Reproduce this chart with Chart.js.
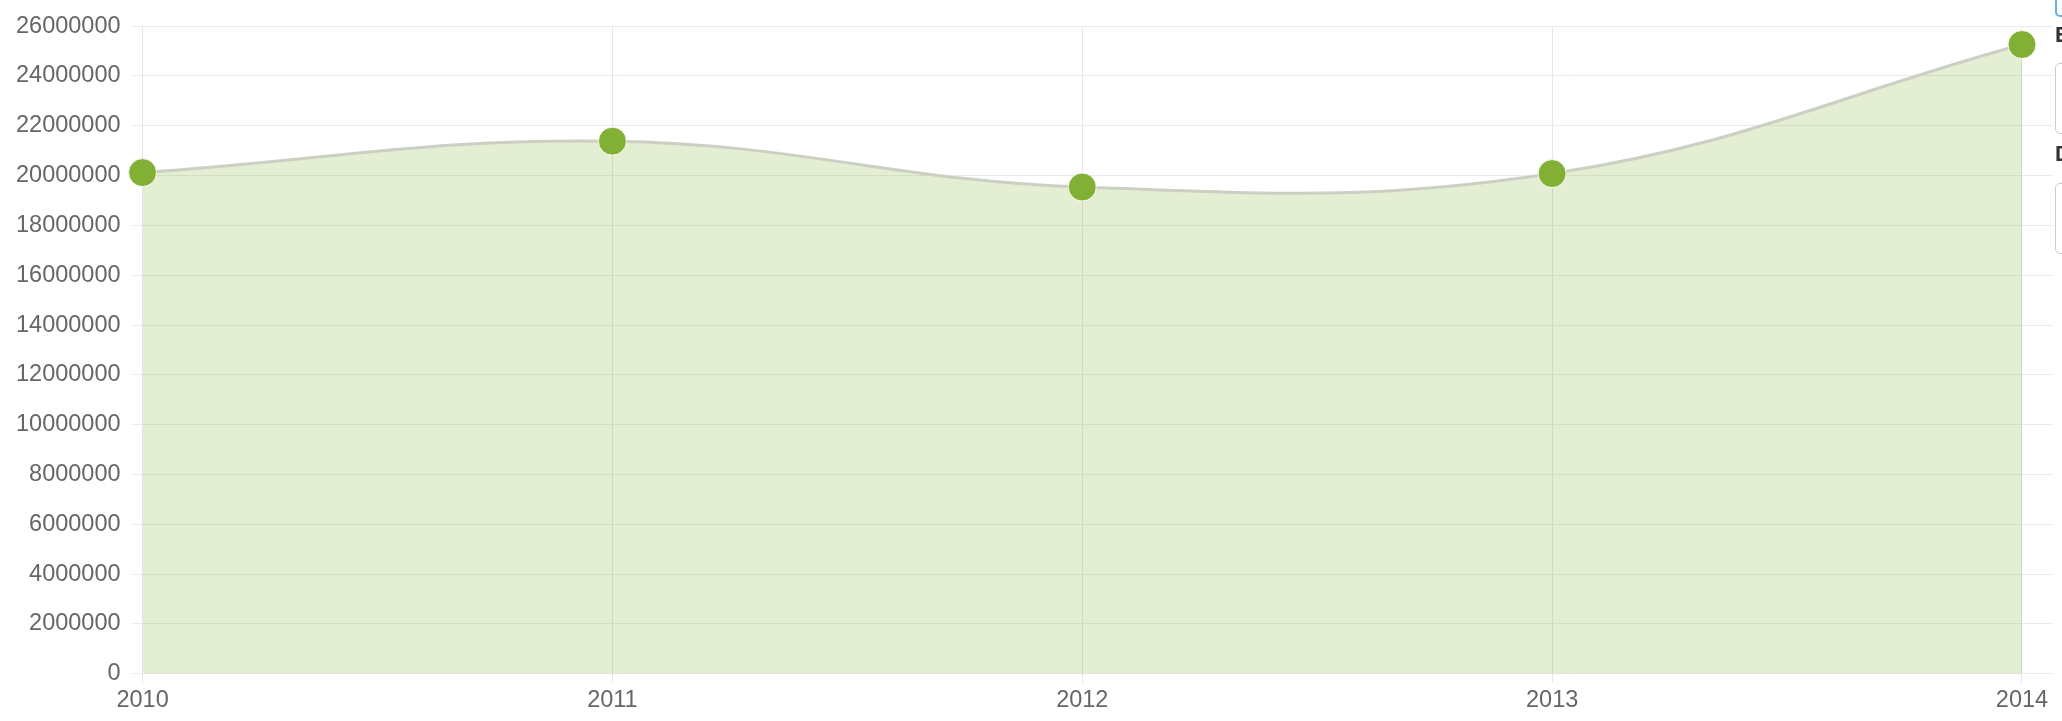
<!DOCTYPE html>
<html>
<head>
<meta charset="utf-8">
<title>Chart</title>
<script src="https://cdn.jsdelivr.net/npm/chart.js@4.4.0/dist/chart.umd.min.js"></script>
<style>
    html, body {
        margin: 0;
        padding: 0;
        background: #fff;
        overflow: hidden;
    }
    #wrap {
        position: absolute;
        left: 0;
        top: 0;
        width: 2068px;
        height: 721px;
    }
    /* cut-off side panel at the right edge */
    .side {
        position: absolute;
        left: 2055px;
        background: #fff;
        font-family: "Liberation Sans", Arial, sans-serif;
    }
    .side-focus {
        top: -20px;
        width: 60px;
        height: 33px;
        border: 2px solid #66afe9;
        border-radius: 5px;
    }
    .side-label {
        font-size: 22px;
        font-weight: bold;
        color: #333;
        width: 20px;
    }
    .side-box {
        width: 60px;
        border: 1px solid #ccc;
        border-radius: 5px;
    }
</style>
</head>
<body>
<div id="wrap"><canvas id="populationChart"></canvas></div>
<div class="side side-focus"></div>
<div class="side side-label" style="top:22px;">E</div>
<div class="side side-box" style="top:63px;height:69px;"></div>
<div class="side side-label" style="top:141px;">D</div>
<div class="side side-box" style="top:183px;height:69px;"></div>

<script>
// Data
const years = [2010, 2011, 2012, 2013, 2014];
const totals = [20120000, 21380000, 19540000, 20080000, 25260000];
const yTicks = [0, 2000000, 4000000, 6000000, 8000000, 10000000, 12000000,
    14000000, 16000000, 18000000, 20000000, 22000000, 24000000, 26000000];

document.addEventListener('DOMContentLoaded', function() {
    initTrendChart();
});

/**
 * Yearly trend (area line)
 */
function initTrendChart() {
    const ctx = document.getElementById('populationChart');
    if (!ctx) return;

    const points = years.map(function(y, i) {
        return { x: y, y: totals[i] };
    });

    new Chart(ctx, {
        type: 'line',
        data: {
            datasets: [{
                data: points,
                borderColor: '#cccfc4',
                backgroundColor: 'rgba(130, 176, 52, 0.22)',
                borderWidth: 3,
                fill: true,
                tension: 0.4,
                pointRadius: 14,
                pointHoverRadius: 14,
                pointBackgroundColor: '#82b034',
                pointBorderColor: 'rgba(255,255,255,0.9)',
                pointBorderWidth: 1,
                clip: false
            }]
        },
        options: {
            responsive: true,
            maintainAspectRatio: false,
            animation: false,
            layout: {
                padding: { top: 26, left: 4, right: 0, bottom: 2 }
            },
            plugins: {
                legend: { display: false },
                tooltip: { enabled: false }
            },
            scales: {
                x: {
                    type: 'linear',
                    min: years[0],
                    max: years[years.length - 1] + 0.066,
                    afterBuildTicks: function(scale) {
                        scale.ticks = years.map(function(v) { return { value: v }; });
                    },
                    border: { display: false },
                    grid: {
                        color: '#e6e6e6',
                        lineWidth: 1,
                        tickLength: 9
                    },
                    ticks: {
                        color: '#666',
                        padding: 4,
                        maxRotation: 0,
                        font: { family: 'Liberation Sans', size: 23.5 },
                        callback: function(v) { return String(v); }
                    }
                },
                y: {
                    min: 0,
                    max: yTicks[yTicks.length - 1],
                    afterBuildTicks: function(scale) {
                        scale.ticks = yTicks.map(function(v) { return { value: v }; });
                    },
                    border: { display: false },
                    grid: {
                        color: '#ebebeb',
                        lineWidth: 1,
                        tickLength: 10
                    },
                    ticks: {
                        color: '#666',
                        padding: 12,
                        font: { family: 'Liberation Sans', size: 23.5 },
                        callback: function(v) { return String(v); }
                    }
                }
            }
        }
    });
}
</script>
</body>
</html>
